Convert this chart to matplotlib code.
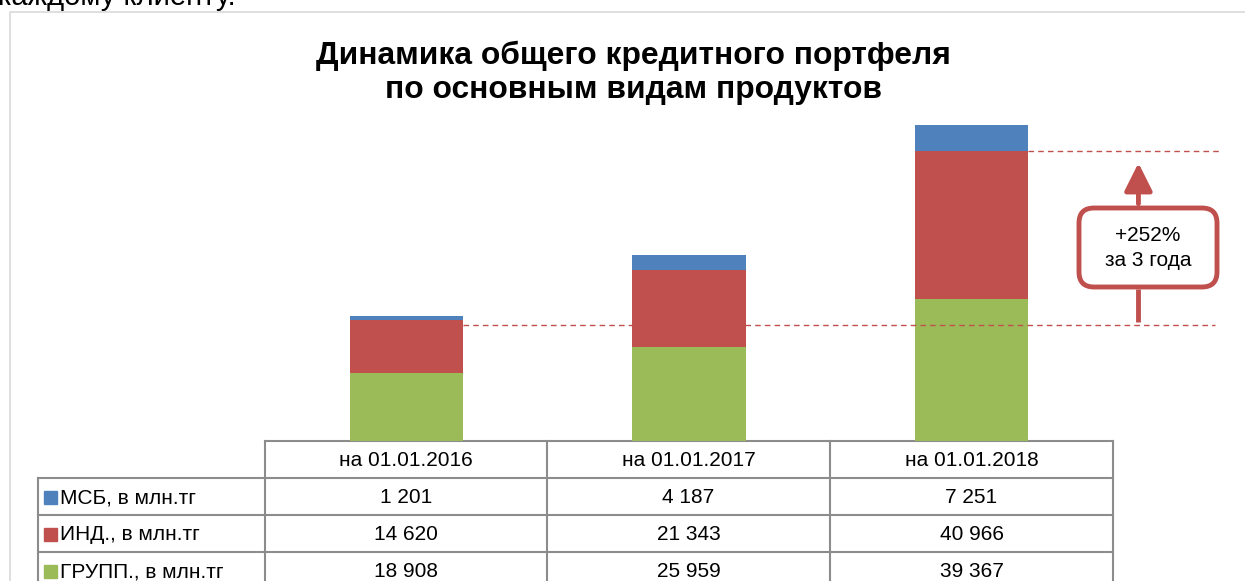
import matplotlib.pyplot as plt
from matplotlib.patches import Rectangle, FancyBboxPatch

plt.rcParams['font.family'] = ['Liberation Sans', 'DejaVu Sans']

# данные
dates = ["на 01.01.2016", "на 01.01.2017", "на 01.01.2018"]
series_names = ["МСБ, в млн.тг", "ИНД., в млн.тг", "ГРУПП., в млн.тг"]
msb = [1201, 4187, 7251]
ind = [14620, 21343, 40966]
grupp = [18908, 25959, 39367]
colors = ["#4F81BD", "#C0504D", "#9BBB59"]
growth_label = "+252%\nза 3 года"

W, H = 1245, 581
fig = plt.figure(figsize=(W / 100, H / 100), dpi=100)

# слой в пикселях для рамки, выноски и таблицы
bg = fig.add_axes([0, 0, 1, 1])
bg.set_xlim(0, W)
bg.set_ylim(H, 0)
bg.axis("off")

bg.text(-2, 5, "каждому клиенту.", fontsize=21, va="baseline", ha="left")
bg.plot([10, 10, W], [H, 12, 12], color="#D9D9D9", lw=1.2)

# столбцы
tot = [g + i + m for g, i, m in zip(grupp, ind, msb)]
base_px, top_px = 441, 125
ax = fig.add_axes([265 / W, (H - base_px) / H, 848 / W, (base_px - top_px) / H])
ax.set_xlim(-0.5, 2.5)
ax.set_ylim(0, max(tot))
ax.axis("off")
x = list(range(len(dates)))
gi = [g + i for g, i in zip(grupp, ind)]
ax.bar(x, grupp, width=0.4, color=colors[2])
ax.bar(x, ind, width=0.4, bottom=grupp, color=colors[1])
ax.bar(x, msb, width=0.4, bottom=gi, color=colors[0])

# пунктирные линии и стрелка
red = "#C0504D"
ax.plot([0.2, 2.86], [gi[0] - 1500, gi[0] - 1500], ls=(0, (4, 3)), color=red, lw=1, clip_on=False)
ax.plot([2.2, 2.88], [gi[2], gi[2]], ls=(0, (4, 3)), color=red, lw=1, clip_on=False)
ax.annotate("", xy=(2.59, gi[2] - 2500), xytext=(2.59, 65000),
            arrowprops=dict(arrowstyle="-|>,head_length=1.7,head_width=0.85", lw=3.5, color=red),
            annotation_clip=False)
ax.plot([2.59, 2.59], [gi[0] - 500, 42000], color=red, lw=3.5, clip_on=False,
        solid_capstyle="butt")

# выноска
bg.add_patch(FancyBboxPatch((1079, 208), 138, 79, boxstyle="round,pad=0,rounding_size=15",
                            fc="white", ec=red, lw=3.5, zorder=3))
bg.text(1148, 248, growth_label, ha="center", va="center", fontsize=15,
        linespacing=1.4, zorder=4)

fig.text(0.509, 1 - 73 / H, "Динамика общего кредитного портфеля\nпо основным видам продуктов",
         ha="center", va="center", fontsize=22.9, fontweight="bold", linespacing=1.2)

# таблица
lc = "#8C8C8C"
col_x = [265, 547, 830, 1113]
row_y = [441, 478, 515, 552, 589]
lbl_x0 = 38
bg.plot([col_x[0], col_x[-1]], [row_y[0], row_y[0]], color=lc, lw=1.5)
for yy in row_y[1:]:
    bg.plot([lbl_x0, col_x[-1]], [yy, yy], color=lc, lw=1.5)
for cx in col_x:
    bg.plot([cx, cx], [row_y[0], H + 5], color=lc, lw=1.5)
bg.plot([lbl_x0, lbl_x0], [row_y[1], H + 5], color=lc, lw=1.5)

for j, d in enumerate(dates):
    bg.text((col_x[j] + col_x[j + 1]) / 2, (row_y[0] + row_y[1]) / 2 + 1, d,
            ha="center", va="center", fontsize=15)

rows = [msb, ind, grupp]
for r, (name, vals, c) in enumerate(zip(series_names, rows, colors)):
    yc = (row_y[r + 1] + row_y[r + 2]) / 2 + 1
    bg.add_patch(Rectangle((44, yc - 6.5), 13, 13, color=c))
    bg.text(60, yc, name, ha="left", va="center", fontsize=15)
    for j, v in enumerate(vals):
        bg.text((col_x[j] + col_x[j + 1]) / 2, yc, f"{v:,}".replace(",", " "),
                ha="center", va="center", fontsize=15)

fig.savefig("out.png", dpi=100)
